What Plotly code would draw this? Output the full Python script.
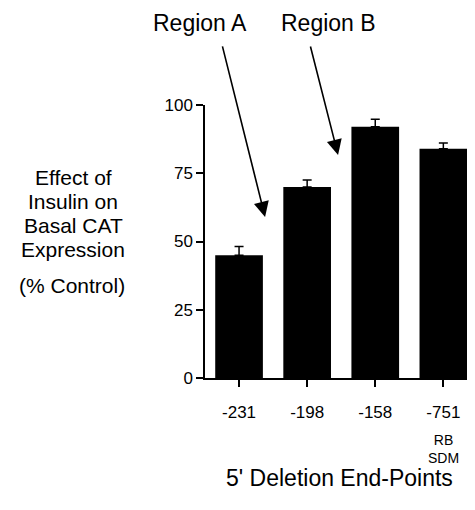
import plotly.graph_objects as go

categories = ["-231", "-198", "-158", "-751"]
values = [45, 70, 92, 84]
errors = [3.2, 2.5, 2.8, 2.1]
y_ticks = [0, 25, 50, 75, 100]
y_title_lines = ["Effect of", "Insulin on", "Basal CAT", "Expression"]

FONT = "Liberation Sans, Arial, sans-serif"

OFF = 8  # page body margin
L, T, W, H = 205 - OFF, 105 - OFF, 269, 273
FW, FH = 475 - OFF, 510 - OFF


def px(xp):
    return (xp - OFF - L) / W


def py(yp):
    return (T + H - (yp - OFF)) / H


fig = go.Figure()
fig.add_trace(go.Bar(
    x=list(range(len(categories))),
    y=values,
    width=0.7,
    marker=dict(color="black", line=dict(width=0)),
    error_y=dict(type="data", symmetric=False, array=errors,
                 arrayminus=[0] * len(errors), color="black",
                 thickness=1.5, width=4.5),
))

txt = dict(showarrow=False, xanchor="center", yanchor="middle",
           xref="paper", yref="paper")
ann = []
ann.append(dict(text="Region A", x=px(200), y=py(23),
                font=dict(size=23, family=FONT, color="black"), **txt))
ann.append(dict(text="Region B", x=px(328), y=py(23),
                font=dict(size=23, family=FONT, color="black"), **txt))
arrow = dict(text="", xref="x", yref="y", showarrow=True, arrowhead=2,
             arrowsize=1.9, arrowwidth=1.6, arrowcolor="black")
ann.append(dict(x=0.382, y=59, ax=-43, ay=-172, **arrow))
ann.append(dict(x=1.454, y=81.7, ax=-28, ay=-110, **arrow))
for i, line in enumerate(y_title_lines):
    ann.append(dict(text=line, x=px(73), y=py(177 + 24.3 * i),
                    font=dict(size=21, family=FONT, color="black"), **txt))
ann.append(dict(text="(% Control)", x=px(72), y=py(285),
                font=dict(size=21, family=FONT, color="black"), **txt))
ann.append(dict(text="RB<br>SDM", x=3, y=py(449), xref="x", yref="paper",
                showarrow=False, xanchor="center", yanchor="middle",
                font=dict(size=14, family=FONT, color="black"), align="center"))
ann.append(dict(text="5' Deletion End-Points", x=px(339), y=py(478),
                font=dict(size=23, family=FONT, color="black"), **txt))

fig.update_layout(
    width=FW, height=FH,
    margin=dict(l=L, r=FW - L - W, t=T, b=FH - T - H),
    paper_bgcolor="white", plot_bgcolor="white",
    showlegend=False,
    annotations=ann,
    font=dict(family=FONT, color="black"),
)
fig.update_xaxes(
    range=[-0.5, 3.45], tickmode="array", tickvals=list(range(len(categories))),
    ticktext=categories, showline=True, linecolor="black", linewidth=1.5,
    ticks="outside", ticklen=7, tickwidth=1.5, tickcolor="black",
    showgrid=False, zeroline=False, tickfont=dict(size=17, family=FONT),
    ticklabelstandoff=11,
)
fig.update_yaxes(
    range=[0, 100], tickmode="array", tickvals=y_ticks,
    showline=True, linecolor="black", linewidth=1.5,
    ticks="outside", ticklen=7, tickwidth=1.5, tickcolor="black",
    showgrid=False, zeroline=False, tickfont=dict(size=17, family=FONT),
)

fig.write_html("out.html")
